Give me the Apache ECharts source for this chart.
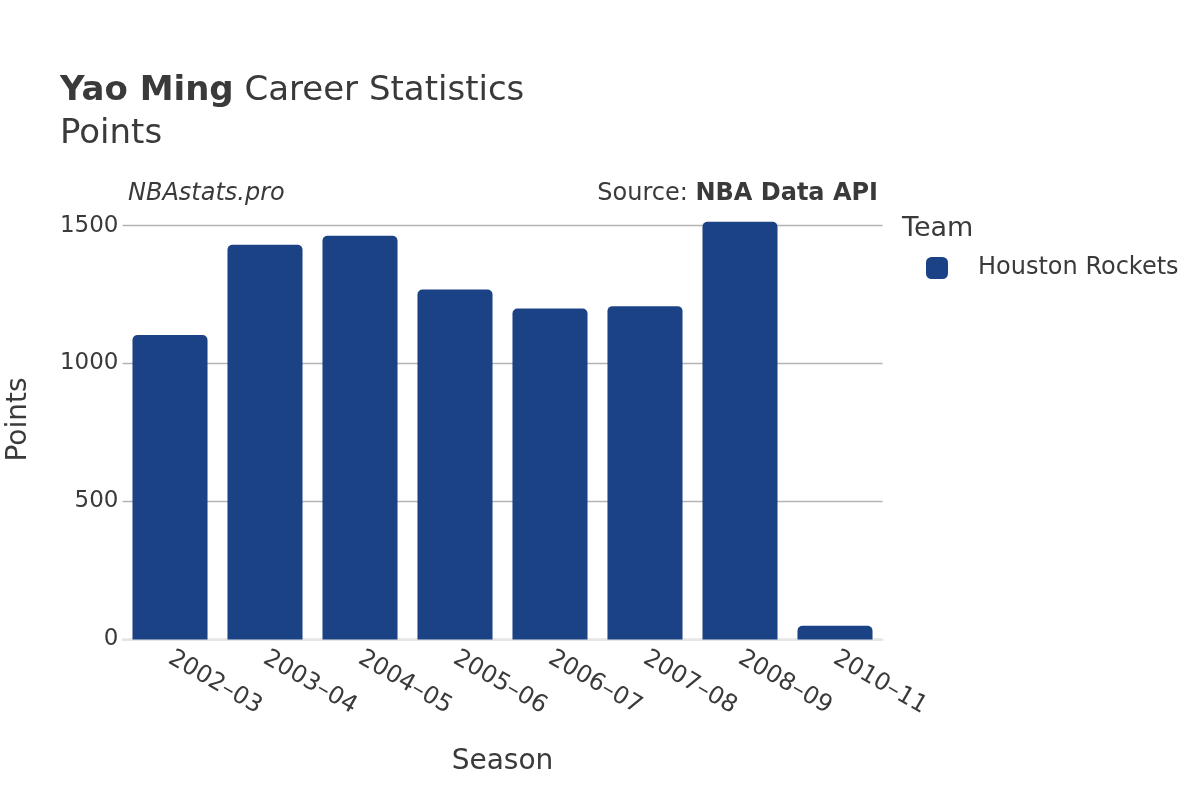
<!DOCTYPE html>
<html>
<head>
<meta charset="utf-8">
<script src="https://cdn.jsdelivr.net/npm/echarts@6/dist/echarts.min.js"></script>
<style>
  html, body { margin: 0; padding: 0; background: #fff; }
  #chart { width: 1200px; height: 800px; }
</style>
</head>
<body>
<div id="chart"></div>
<script>
// 数据
var seasons = ['2002–03', '2003–04', '2004–05', '2005–06', '2006–07', '2007–08', '2008–09', '2010–11'];
var points = [1103, 1430, 1463, 1268, 1199, 1208, 1514, 50];
var yTicks = [0, 500, 1000, 1500];
var yMax = 1594; // 坐标轴上限（留白）

var font = 'DejaVu Sans';
var textColor = '#3a3a3a';
var barColor = '#1c4286';

var myChart = echarts.init(document.getElementById('chart'));

var option = {
  textStyle: { fontFamily: font },
  title: [{
    text: '{b|Yao Ming} Career Statistics\nPoints',
    left: 60,
    top: 69.5,
    padding: 0,
    textStyle: {
      fontSize: 34, fontWeight: 'normal', color: textColor, lineHeight: 43, fontFamily: font,
      rich: { b: { fontSize: 34, fontWeight: 'bold', color: textColor, fontFamily: font } }
    }
  }, {
    text: 'NBAstats.pro',
    left: 128,
    top: 182,
    padding: 0,
    textStyle: { fontSize: 24, fontStyle: 'italic', fontWeight: 'normal', color: textColor, fontFamily: font }
  }, {
    text: 'Source: {b|NBA Data API}',
    right: 322,
    top: 182,
    padding: 0,
    textStyle: {
      fontSize: 24, fontWeight: 'normal', color: textColor, fontFamily: font,
      rich: { b: { fontSize: 24, fontWeight: 'bold', color: textColor, fontFamily: font } }
    }
  }, {
    text: 'Team',
    left: 902,
    top: 215,
    padding: 0,
    textStyle: { fontSize: 27, fontWeight: 'normal', color: textColor, fontFamily: font }
  }],
  legend: {
    data: ['Houston Rockets'],
    left: 926,
    top: 256,
    padding: 0,
    icon: 'roundRect',
    itemWidth: 22,
    itemHeight: 22,
    itemGap: 10,
    textStyle: { fontSize: 24, color: textColor, padding: [0, 0, 0, 25], fontFamily: font }
  },
  grid: {
    left: 122.5,
    right: 317.5,
    top: 199.6,
    bottom: 160.5,
    outerBoundsMode: 'none'
  },
  xAxis: {
    type: 'category',
    data: seasons,
    name: 'Season',
    nameLocation: 'middle',
    nameGap: 108,
    nameTextStyle: { fontSize: 28, color: textColor },
    axisLine: { show: true, lineStyle: { color: '#e6e6e6', width: 2 } },
    axisTick: { show: false },
    axisLabel: { rotate: -30, fontSize: 24, color: textColor, margin: 17 }
  },
  yAxis: {
    type: 'value',
    min: yTicks[0],
    max: yMax,
    interval: 500,
    name: 'Points',
    nameLocation: 'middle',
    nameGap: 90,
    nameTextStyle: { fontSize: 28, color: textColor },
    axisLine: { show: false },
    axisTick: { show: false },
    axisLabel: {
      fontSize: 23, color: textColor, margin: 4, showMaxLabel: false,
      formatter: function (v) { return yTicks.indexOf(v) >= 0 ? String(v) : ''; }
    },
    splitLine: { showMaxLine: false, lineStyle: { color: '#b4b4b4', width: 1.3 } }
  },
  series: [{
    name: 'Houston Rockets',
    type: 'bar',
    data: points,
    barCategoryGap: '21%',
    itemStyle: { color: barColor, borderRadius: [5, 5, 0, 0] }
  }]
};

myChart.setOption(option);
</script>
</body>
</html>
